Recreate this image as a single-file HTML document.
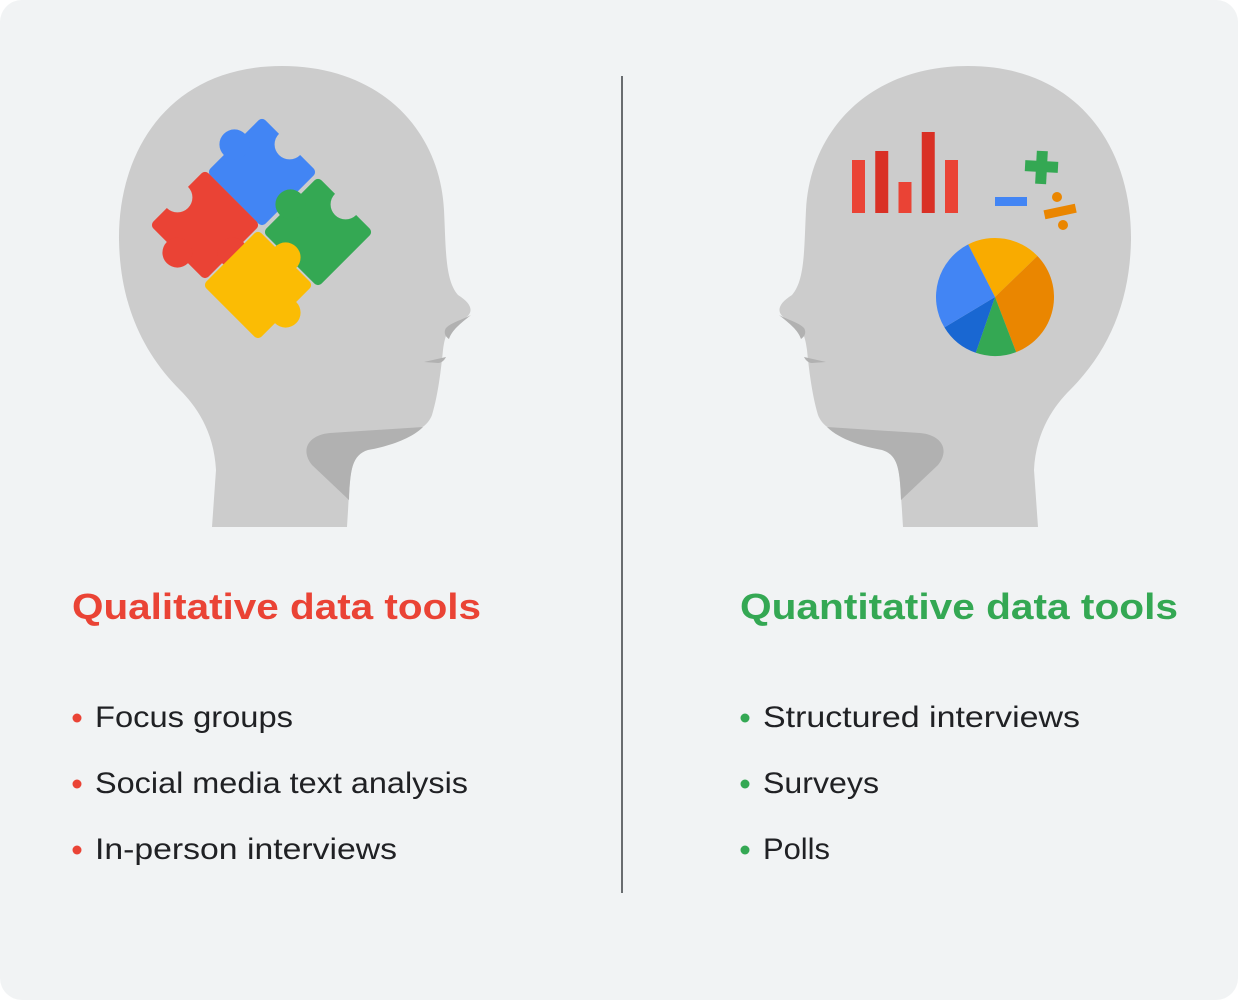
<!DOCTYPE html>
<html><head><meta charset="utf-8"><style>
html,body{margin:0;padding:0;background:#fff;}
svg{display:block;}
text{font-family:"Liberation Sans",sans-serif;}
</style></head><body>
<svg width="1238" height="1000" viewBox="0 0 1238 1000">
<rect x="0" y="0" width="1238" height="1000" rx="22" fill="#f1f3f4"/>
<defs>
<path id="head" d="M212,527 L216,470 C214,430 195,405 180,390 C140,350 120,300 119,240 C118,150 170,66 282,66 C380,66 440,130 444,210 C446,250 445,280 458,295 C474,305 474,314 462,320 C448,326 445,335 443,350 C441,370 438,395 432,415 C428,425 420,430 410,433 C390,438 370,445 360,452 C350,460 350,480 347,527 Z"/>
<path id="neck" d="M330,433 L423,427 C410,440 385,447 368,450 C352,455 350,470 349,500 L312,465 C300,450 308,435 330,433 Z"/>
<path id="nose" d="M471,315 C462,320 452,322 446,328 C443,333 446,337 449,339 C452,330 460,324 471,315 Z"/>
<path id="mouth" d="M424,362 L446,357 C444,361 441,363 438,363 Z"/>
</defs>
<g>
<use href="#head" fill="#cccccc"/>
<use href="#neck" fill="#b1b1b1"/>
<use href="#nose" fill="#b1b1b1"/>
<use href="#mouth" fill="#b1b1b1"/>
</g>
<g transform="translate(1250,0) scale(-1,1)">
<use href="#head" fill="#cccccc"/>
<use href="#neck" fill="#b1b1b1"/>
<use href="#nose" fill="#b1b1b1"/>
<use href="#mouth" fill="#b1b1b1"/>
</g>
<g>
<g transform="translate(262,172) rotate(45)">
<rect x="-39" y="-39" width="78" height="78" rx="5" fill="#4285f4"/>
<circle cx="-39" cy="0" r="15" fill="#4285f4"/>
<circle cx="0" cy="-39" r="15" fill="#cccccc"/>
</g>
<g transform="translate(205,225) rotate(45)">
<rect x="-39" y="-39" width="78" height="78" rx="5" fill="#ea4335"/>
<circle cx="39" cy="0" r="15" fill="#ea4335"/>
<circle cx="0" cy="39" r="15" fill="#ea4335"/>
<circle cx="-39" cy="0" r="15" fill="#cccccc"/>
</g>
<g transform="translate(318,232) rotate(45)">
<rect x="-39" y="-39" width="78" height="78" rx="5" fill="#34a853"/>
<circle cx="-39" cy="0" r="15" fill="#34a853"/>
<circle cx="0" cy="-39" r="15" fill="#cccccc"/>
</g>
<g transform="translate(258,285) rotate(45)">
<rect x="-39" y="-39" width="78" height="78" rx="5" fill="#fbbc04"/>
<circle cx="0" cy="-39" r="15" fill="#fbbc04"/>
<circle cx="39" cy="0" r="15" fill="#fbbc04"/>
</g>
</g>
<g id="bars"></g>
<g id="pie"></g>
<g>
<rect x="1025" y="161" width="33" height="11" fill="#34a853" transform="rotate(3 1042 167)"/>
<rect x="1036" y="151" width="11" height="33" fill="#34a853" transform="rotate(3 1042 167)"/>
<rect x="995" y="197" width="32" height="9" fill="#4285f4"/>
<rect x="1044" y="207" width="32" height="9" fill="#ea8600" transform="rotate(-12 1060 211)"/>
<circle cx="1057" cy="197" r="5" fill="#ea8600"/>
<circle cx="1063" cy="225" r="5" fill="#ea8600"/>
</g>
<line x1="622" y1="76" x2="622" y2="893" stroke="#3c4043" stroke-width="1.5"/>
<text x="72" y="619" font-size="36" font-weight="bold" fill="#ea4335" textLength="409" lengthAdjust="spacingAndGlyphs">Qualitative data tools</text>
<text x="740" y="619" font-size="36" font-weight="bold" fill="#34a853" textLength="438" lengthAdjust="spacingAndGlyphs">Quantitative data tools</text>
<g fill="#202124" font-size="30">
<circle cx="77" cy="718" r="4.5" fill="#ea4335"/>
<text x="95" y="727" textLength="198" lengthAdjust="spacingAndGlyphs">Focus groups</text>
<circle cx="77" cy="784" r="4.5" fill="#ea4335"/>
<text x="95" y="793" textLength="373" lengthAdjust="spacingAndGlyphs">Social media text analysis</text>
<circle cx="77" cy="850" r="4.5" fill="#ea4335"/>
<text x="95" y="859" textLength="302" lengthAdjust="spacingAndGlyphs">In-person interviews</text>
<circle cx="745" cy="718" r="4.5" fill="#34a853"/>
<text x="763" y="727" textLength="317" lengthAdjust="spacingAndGlyphs">Structured interviews</text>
<circle cx="745" cy="784" r="4.5" fill="#34a853"/>
<text x="763" y="793" textLength="116" lengthAdjust="spacingAndGlyphs">Surveys</text>
<circle cx="745" cy="850" r="4.5" fill="#34a853"/>
<text x="763" y="859" textLength="67" lengthAdjust="spacingAndGlyphs">Polls</text>
</g>
</svg>
<script>
const barCategories = ['b1','b2','b3','b4','b5'];
const barValues = [53, 62, 31, 81, 53];
const barColors = ['#ea4335','#d93025','#ea4335','#d93025','#ea4335'];
const pieLabels = ['yellow','orange','green','darkblue','blue'];
const pieValues = [73, 113, 40, 40, 94];
const pieColors = ['#f9ab00','#ea8600','#34a853','#1967d2','#4285f4'];
const pieStartDeg = 333;

const NS = 'http://www.w3.org/2000/svg';
(function(){
  const g = document.getElementById('bars');
  const x0 = 852, step = 23.25, bw = 13, baseY = 213, scale = 1.0;
  barValues.forEach((v,i)=>{
    const r = document.createElementNS(NS,'rect');
    r.setAttribute('x', x0 + i*step);
    r.setAttribute('y', baseY - v*scale);
    r.setAttribute('width', bw);
    r.setAttribute('height', v*scale);
    r.setAttribute('fill', barColors[i % barColors.length]);
    
    
    g.appendChild(r);
  });
})();
(function(){
  const g = document.getElementById('pie');
  const cx = 995, cy = 297, R = 59;
  const total = pieValues.reduce((a,b)=>a+b,0);
  let a = pieStartDeg;
  const pt = d => { const t = d*Math.PI/180; return [cx + R*Math.sin(t), cy - R*Math.cos(t)]; };
  pieValues.forEach((v,i)=>{
    const sweep = v/total*360;
    const p1 = pt(a), p2 = pt(a+sweep);
    const p = document.createElementNS(NS,'path');
    p.setAttribute('d', `M${cx},${cy} L${p1[0]},${p1[1]} A${R},${R} 0 ${sweep>180?1:0} 1 ${p2[0]},${p2[1]} Z`);
    p.setAttribute('fill', pieColors[i]);
    
    
    g.appendChild(p);
    a += sweep;
  });
})();
</script>
</body></html>
